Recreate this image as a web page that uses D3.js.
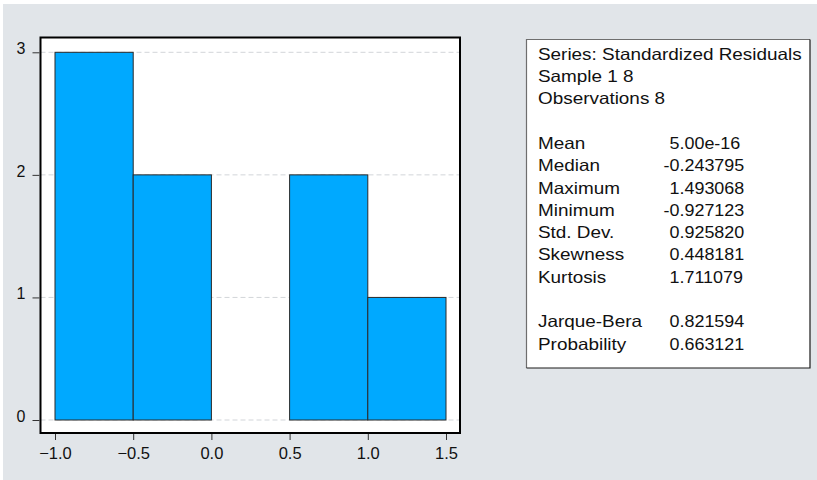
<!DOCTYPE html>
<html>
<head>
<meta charset="utf-8">
<script src="https://cdn.jsdelivr.net/npm/d3@7"></script>
<style>
  html, body { margin: 0; padding: 0; background: #ffffff; }
  svg { display: block; }
  text { font-family: "Liberation Sans", Arial, Helvetica, sans-serif; fill: #111; }
</style>
</head>
<body>
<svg id="chart" width="817" height="480"></svg>
<script>
// Histogram bins of the standardized residuals
const binStarts = [-1.0, -0.5, 0.0, 0.5, 1.0];
const binWidth = 0.5;
const binCounts = [3, 2, 0, 2, 1];

// Axis ticks
const xTicks = [-1.0, -0.5, 0.0, 0.5, 1.0, 1.5];
const yTicks = [0, 1, 2, 3];

// Summary statistics panel
const headerLines = ["Series: Standardized Residuals", "Sample 1 8", "Observations 8"];
const statNames = ["Mean", "Median", "Maximum", "Minimum", "Std. Dev.", "Skewness", "Kurtosis"];
const statValues = ["5.00e-16", "-0.243795", "1.493068", "-0.927123", "0.925820", "0.448181", "1.711079"];
const testNames = ["Jarque-Bera", "Probability"];
const testValues = ["0.821594", "0.663121"];

const svg = d3.select("#chart");

// page background
svg.append("rect").attr("x", 3).attr("y", 4).attr("width", 814).attr("height", 476)
  .attr("fill", "#e1e5e9");

// plot frame
const frame = { left: 40.5, right: 460, top: 37.5, bottom: 433 };

const x = d3.scaleLinear().domain([-1.0, 1.5]).range([55, 446]);
const y = d3.scaleLinear().domain([0, 3]).range([420, 52.3]);

svg.append("rect")
  .attr("x", frame.left).attr("y", frame.top)
  .attr("width", frame.right - frame.left).attr("height", frame.bottom - frame.top)
  .attr("fill", "#ffffff");

// dashed gridlines
svg.append("g").selectAll("line").data(yTicks).join("line")
  .attr("x1", frame.left).attr("x2", frame.right)
  .attr("y1", d => y(d)).attr("y2", d => y(d))
  .attr("stroke", "#d2d5d9").attr("stroke-width", 1)
  .attr("stroke-dasharray", "5,3");

// bars
svg.append("g").selectAll("rect")
  .data(binStarts.map((s, i) => ({ s, c: binCounts[i] })).filter(d => d.c > 0))
  .join("rect")
  .attr("x", d => x(d.s))
  .attr("width", d => x(d.s + binWidth) - x(d.s))
  .attr("y", d => y(d.c))
  .attr("height", d => y(0) - y(d.c))
  .attr("fill", "#00a9ff")
  .attr("stroke", "#2a2a2a").attr("stroke-width", 1);

// frame border on top
svg.append("rect")
  .attr("x", frame.left).attr("y", frame.top)
  .attr("width", frame.right - frame.left).attr("height", frame.bottom - frame.top)
  .attr("fill", "none").attr("stroke", "#000").attr("stroke-width", 2);

// y axis
const yAxis = svg.append("g")
  .attr("transform", `translate(${frame.left - 1},0)`)
  .call(d3.axisLeft(y).tickValues(yTicks).tickFormat(d3.format("d")).tickSize(7).tickPadding(7));
yAxis.select(".domain").remove();
yAxis.selectAll(".tick line").attr("stroke", "#333");
yAxis.selectAll(".tick text")
  .attr("dy", "1.5px")
  .style("font-size", "16px").attr("font-family", null);

// x axis
const xAxis = svg.append("g")
  .attr("transform", `translate(0,${frame.bottom + 1})`)
  .call(d3.axisBottom(x).tickValues(xTicks).tickFormat(d3.format(".1f")).tickSize(6).tickPadding(7.5));
xAxis.select(".domain").remove();
xAxis.selectAll(".tick line").attr("stroke", "#333");
xAxis.selectAll(".tick text")
  .style("font-size", "16.5px").attr("font-family", null);
svg.selectAll(".tick text").attr("fill", "#111");

// statistics panel
const box = { left: 526.5, top: 39.5, right: 810, bottom: 368 };
svg.append("rect")
  .attr("x", box.left).attr("y", box.top)
  .attr("width", box.right - box.left).attr("height", box.bottom - box.top)
  .attr("fill", "#ffffff");
svg.append("path")
  .attr("d", `M${box.left},${box.bottom} V${box.top} H${box.right}`)
  .attr("fill", "none").attr("stroke", "#6e6e6e").attr("stroke-width", 1.2);
svg.append("path")
  .attr("d", `M${box.right},${box.top} V${box.bottom} H${box.left}`)
  .attr("fill", "none").attr("stroke", "#1a1a1a").attr("stroke-width", 1.2);

const fs = 16.3, sxLabel = 1.16, sxValue = 1.10, rowStep = 22.3, firstBase = 59.7;
const labelX = 538, valueX = 669.5;
const rows = [];
headerLines.forEach((t, i) => rows.push({ row: i, label: t }));
statNames.forEach((t, i) => rows.push({ row: 4 + i, label: t, value: statValues[i] }));
testNames.forEach((t, i) => rows.push({ row: 12 + i, label: t, value: testValues[i] }));

const panel = svg.append("g");
rows.forEach(r => {
  const base = firstBase + rowStep * r.row;
  panel.append("text")
    .attr("transform", `translate(${labelX},${base}) scale(${sxLabel},1)`)
    .style("font-size", fs + "px")
    .text(r.label);
  if (r.value !== undefined) {
    const neg = r.value.startsWith("-");
    const t = panel.append("text")
      .attr("transform", `translate(${valueX},${base}) scale(${sxValue},1)`)
      .style("font-size", fs + "px")
      .text(r.value);
    if (neg) {
      // hang the minus sign left of the digit column
      const probe = panel.append("text").style("font-size", fs + "px").text("-");
      const w = probe.node().getComputedTextLength();
      probe.remove();
      t.attr("x", -w);
    }
  }
});
</script>
</body>
</html>
